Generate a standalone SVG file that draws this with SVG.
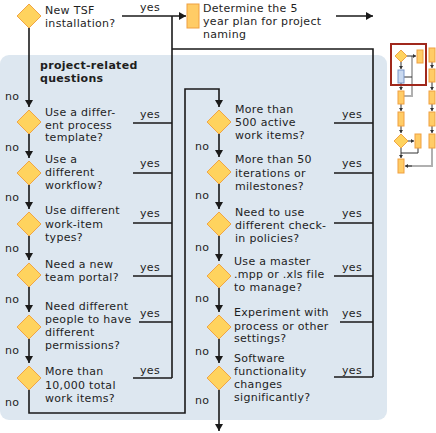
<svg xmlns="http://www.w3.org/2000/svg" width="436" height="433" viewBox="0 0 436 433">
<style>
text{font-family:"DejaVu Sans",Verdana,sans-serif;font-size:11px;fill:#1e1e1e;letter-spacing:0.3px}
.b{font-weight:bold}
.d{fill:#ffd35e;stroke:#f0a545;stroke-width:1}
.r{fill:#ffcc66;stroke:#f0a040;stroke-width:1}
.c{fill:none;stroke:#1a1a1a;stroke-width:1.6}
.a{marker-end:url(#ah)}
.tc{fill:none;stroke:#333;stroke-width:1}
.tg{fill:none;stroke:#b0b0b0;stroke-width:2}
</style>
<defs>
<marker id="ah" markerUnits="userSpaceOnUse" markerWidth="8" markerHeight="8" refX="7" refY="4" orient="auto">
<path d="M0,0 L7,4 L0,8 z" fill="#1a1a1a"/>
</marker>
<marker id="ts" markerUnits="userSpaceOnUse" markerWidth="4" markerHeight="4" refX="3" refY="2" orient="auto">
<path d="M0,0 L3,2 L0,4 z" fill="#333"/>
</marker>
</defs>
<rect x="0" y="55" width="387" height="365" rx="9" fill="#dde7f0"/>
<text class="b" x="40" y="69">project-related</text>
<text class="b" x="40" y="82">questions</text>

<g id="connectors">
<path class="c a" d="M122,16 L186,16"/>
<path class="c a" d="M336,16 L373,16"/>
<path class="c" d="M172,16 L172,378"/>
<path class="c" d="M172,49 L373,49 L373,377"/>
<path class="c a" d="M29,28 L29,107"/>
<path class="c a" d="M29,134 L29,158"/>
<path class="c a" d="M29,185 L29,209"/>
<path class="c a" d="M29,236 L29,260"/>
<path class="c a" d="M29,287 L29,312"/>
<path class="c a" d="M29,339 L29,363"/>
<path class="c" d="M133,123 L172,123 M133,173 L172,173 M133,223 L172,223 M133,276 L172,276 M139,322 L172,322 M133,378 L172,378"/>
<path class="c a" d="M29,390 L29,413 L185,413 L185,89 L219,89 L219,107"/>
<path class="c a" d="M219,134 L219,157"/>
<path class="c a" d="M219,184 L219,209"/>
<path class="c a" d="M219,236 L219,261"/>
<path class="c a" d="M219,288 L219,312"/>
<path class="c a" d="M219,339 L219,363"/>
<path class="c a" d="M219,390 L219,431"/>
<path class="c" d="M334,123 L373,123 M334,173 L373,173 M334,223 L373,223 M334,276 L373,276 M340,322 L373,322 M334,377 L373,377"/>
</g>

<g id="n0"><path class="d" d="M29,4 L41,16 L29,28 L17,16 z"/><text x="45" y="14">New TSF</text><text x="45" y="27">installation?</text></g>
<text x="140" y="11">yes</text>
<g id="plan"><rect class="r" x="187" y="4" width="12" height="24"/><text x="203" y="12">Determine the 5</text><text x="203" y="25">year plan for project</text><text x="203" y="38">naming</text></g>

<g id="l1"><path class="d" d="M29,110 L41,122 L29,134 L17,122 z"/><text x="45" y="116">Use a differ-</text><text x="45" y="129">ent process</text><text x="45" y="141">template?</text></g>
<g id="l2"><path class="d" d="M29,161 L41,173 L29,185 L17,173 z"/><text x="45" y="163">Use a</text><text x="45" y="176">different</text><text x="45" y="189">workflow?</text></g>
<g id="l3"><path class="d" d="M29,212 L41,224 L29,236 L17,224 z"/><text x="45" y="214">Use different</text><text x="45" y="228">work-item</text><text x="45" y="241">types?</text></g>
<g id="l4"><path class="d" d="M29,263 L41,275 L29,287 L17,275 z"/><text x="45" y="268">Need a new</text><text x="45" y="281">team portal?</text></g>
<g id="l5"><path class="d" d="M29,315 L41,327 L29,339 L17,327 z"/><text x="45" y="310">Need different</text><text x="45" y="323">people to have</text><text x="45" y="336">different</text><text x="45" y="349">permissions?</text></g>
<g id="l6"><path class="d" d="M29,366 L41,378 L29,390 L17,378 z"/><text x="45" y="375">More than</text><text x="45" y="389">10,000 total</text><text x="45" y="402">work items?</text></g>

<g id="r1"><path class="d" d="M219,110 L231,122 L219,134 L207,122 z"/><text x="235" y="113">More than</text><text x="235" y="126">500 active</text><text x="235" y="139">work items?</text></g>
<g id="r2"><path class="d" d="M219,160 L231,172 L219,184 L207,172 z"/><text x="235" y="163">More than 50</text><text x="235" y="177">iterations or</text><text x="235" y="190">milestones?</text></g>
<g id="r3"><path class="d" d="M219,212 L231,224 L219,236 L207,224 z"/><text x="235" y="216">Need to use</text><text x="235" y="229">different check-</text><text x="235" y="242">in policies?</text></g>
<g id="r4"><path class="d" d="M219,264 L231,276 L219,288 L207,276 z"/><text x="234" y="265">Use a master</text><text x="234" y="278">.mpp or .xls file</text><text x="234" y="291">to manage?</text></g>
<g id="r5"><path class="d" d="M219,315 L231,327 L219,339 L207,327 z"/><text x="234" y="316">Experiment with</text><text x="234" y="330">process or other</text><text x="234" y="342">settings?</text></g>
<g id="r6"><path class="d" d="M219,366 L231,378 L219,390 L207,378 z"/><text x="234" y="362">Software</text><text x="234" y="375">functionality</text><text x="234" y="388">changes</text><text x="234" y="401">significantly?</text></g>

<g id="labels">
<text x="5" y="100">no</text><text x="5" y="151">no</text><text x="5" y="201">no</text><text x="5" y="252">no</text><text x="5" y="303">no</text><text x="5" y="354">no</text><text x="5" y="406">no</text>
<text x="140" y="118">yes</text><text x="140" y="167">yes</text><text x="140" y="217">yes</text><text x="140" y="271">yes</text><text x="140" y="317">yes</text><text x="140" y="374">yes</text>
<text x="195" y="150">no</text><text x="195" y="199">no</text><text x="195" y="251">no</text><text x="195" y="302">no</text><text x="195" y="355">no</text><text x="195" y="404">no</text>
<text x="342" y="118">yes</text><text x="342" y="167">yes</text><text x="342" y="217">yes</text><text x="342" y="271">yes</text><text x="342" y="317">yes</text><text x="342" y="374">yes</text>
</g>

<g id="thumbnail">
<path class="tg" d="M412,56 L412,96 L404,96"/>
<path class="tg" d="M432,148 L432,166 L406,166"/>
<path class="tc" d="M404,77 L412,77"/>
<path class="tc" d="M407,56 L416,56" marker-end="url(#ts)"/>
<path class="tc" d="M401,62 L401,69" marker-end="url(#ts)"/>
<path class="tc" d="M401,83 L401,90" marker-end="url(#ts)"/>
<path class="tc" d="M401,104 L401,111" marker-end="url(#ts)"/>
<path class="tc" d="M401,126 L401,133" marker-end="url(#ts)"/>
<path class="tc" d="M408,141 L414,141" marker-end="url(#ts)"/>
<path class="tc" d="M401,148 L401,153 L418,153 L418,148 M401,153 L401,158" marker-end="url(#ts)"/>
<path class="tc" d="M432,62 L432,68" marker-end="url(#ts)"/>
<path class="tc" d="M432,82 L432,90" marker-end="url(#ts)"/>
<path class="tc" d="M432,104 L432,111" marker-end="url(#ts)"/>
<path class="tc" d="M432,126 L432,133" marker-end="url(#ts)"/>
<path class="tc" d="M412,166 L405,166" marker-end="url(#ts)"/>
<path class="d" d="M401,50 L407,56 L401,62 L395,56 z"/>
<rect class="r" x="417" y="50" width="6" height="13"/>
<rect x="398" y="70" width="6" height="13" fill="#c9d9f0" stroke="#7a96c8" stroke-width="1"/>
<rect class="r" x="398" y="91" width="6" height="13"/>
<rect class="r" x="398" y="112" width="6" height="14"/>
<path class="d" d="M401,134 L408,141 L401,148 L394,141 z"/>
<rect class="r" x="415" y="134" width="6" height="14"/>
<rect class="r" x="398" y="159" width="6" height="14"/>
<rect class="r" x="429" y="48" width="6" height="14"/>
<rect class="r" x="429" y="69" width="6" height="13"/>
<rect class="r" x="429" y="91" width="6" height="13"/>
<rect class="r" x="429" y="112" width="6" height="14"/>
<rect class="r" x="429" y="134" width="6" height="14"/>
<rect x="391" y="44" width="35" height="41" fill="none" stroke="#a0281c" stroke-width="2"/>
</g>
</svg>
